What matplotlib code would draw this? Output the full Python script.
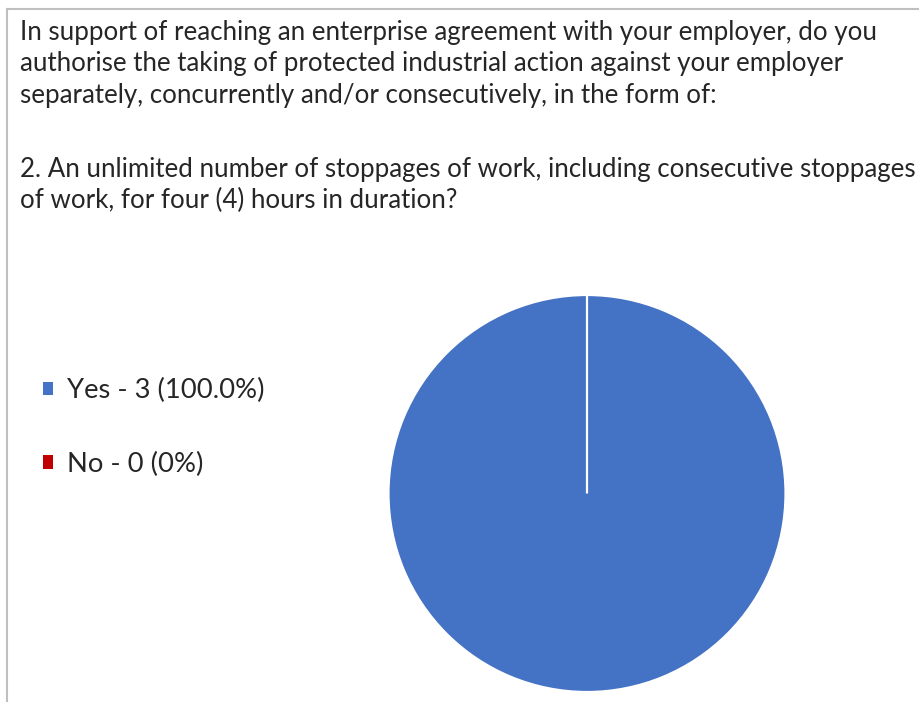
import matplotlib
matplotlib.use("Agg")
import matplotlib.pyplot as plt
from matplotlib.lines import Line2D

plt.rcParams['font.family'] = ['Lato', 'DejaVu Sans']

title_lines = [
    "In support of reaching an enterprise agreement with your employer, do you",
    "authorise the taking of protected industrial action against your employer",
    "separately, concurrently and/or consecutively, in the form of:",
    "2. An unlimited number of stoppages of work, including consecutive stoppages",
    "of work, for four (4) hours in duration?",
]
categories = ["Yes", "No"]
counts = [3, 0]
pct_labels = ["100.0%", "0%"]
colors = ["#4472C4", "#C00000"]

W, H = 919, 702
fig = plt.figure(figsize=(W / 100, H / 100), dpi=100)
fig.patch.set_facecolor("white")

# border (left + top)
border_col = "#BFBFBF"
fig.add_artist(Line2D([7 / W, 7 / W], [0, 1 - 9 / H], transform=fig.transFigure,
                      color=border_col, lw=1.5))
fig.add_artist(Line2D([7 / W, 1], [1 - 9 / H, 1 - 9 / H], transform=fig.transFigure,
                      color=border_col, lw=1.5))

# title lines (pixel baselines)
baselines = [40, 71.5, 103, 177, 208.5]
for yb, line in zip(baselines, title_lines):
    fig.text(20 / W, 1 - yb / H, line, fontsize=18.6,
             color="#262626", ha="left", va="baseline")

# pie
cx, cy, r = 587, 493.5, 199.5
ax = fig.add_axes([(cx - r) / W, (H - cy - r) / H, 2 * r / W, 2 * r / H])
wedges, _ = ax.pie(counts, colors=colors, startangle=90, counterclock=False,
                   radius=1, wedgeprops=dict(edgecolor="white", linewidth=1.6))
ax.set_xlim(-1.005, 1.005)
ax.set_ylim(-1.005, 1.005)
ax.set_aspect("equal")
ax.axis("off")

labels = [f"{c} - {v} ({p})" for c, v, p in zip(categories, counts, pct_labels)]
handles = [plt.Rectangle((0, 0), 1, 1, facecolor=c, edgecolor="none") for c in colors]
fig.legend(handles, labels, loc="upper left", bbox_to_anchor=(43 / W, 1 - 378 / H),
           frameon=False, fontsize=19.7, handlelength=0.38, handleheight=0.38,
           handletextpad=0.48, labelspacing=1.78, borderpad=0, borderaxespad=0,
           labelcolor="#262626")

fig.savefig("out.png", dpi=100, facecolor="white")
